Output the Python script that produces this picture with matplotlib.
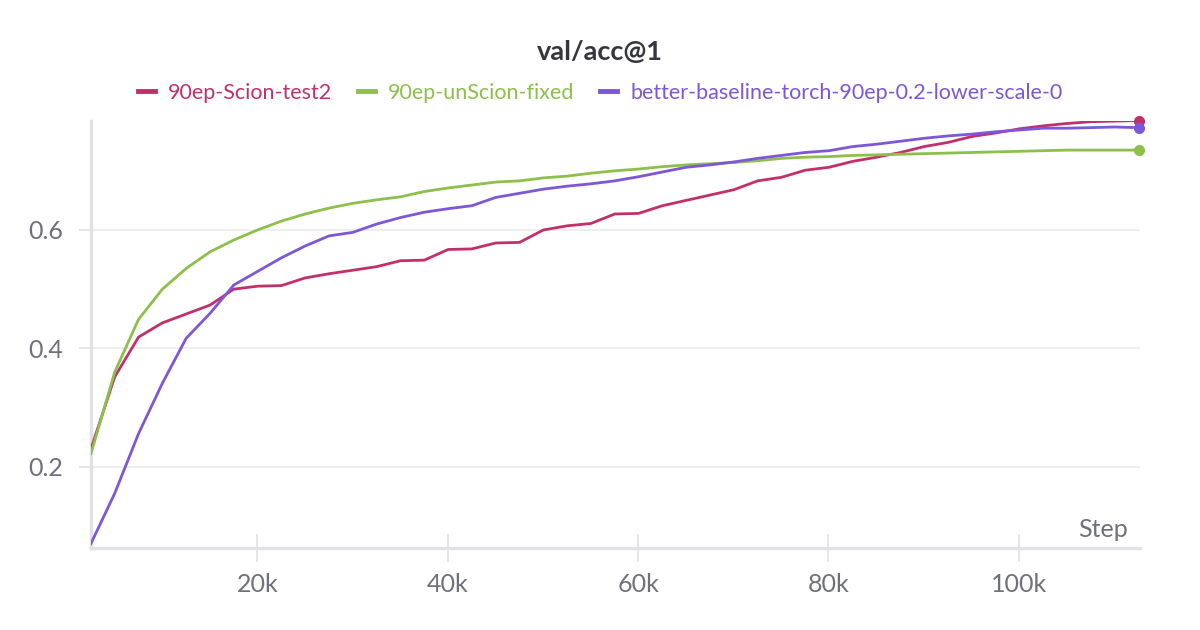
"""
Recreate the W&B style val/acc@1 chart for three 90-epoch runs.
"""

import matplotlib
matplotlib.use("Agg")
import matplotlib.pyplot as plt
from matplotlib.ticker import FuncFormatter

plt.rcParams['font.family'] = ['Lato', 'DejaVu Sans']

# ── data (validation every 2 epochs, 1251 steps / epoch) ─────────────────────

STEPS_PER_POINT = 2502
N_POINTS = 45
steps = [STEPS_PER_POINT * (k + 1) for k in range(N_POINTS)]

scion_test2 = [
    0.230, 0.352, 0.419, 0.443, 0.458, 0.473, 0.500, 0.505, 0.506, 0.519,
    0.526, 0.532, 0.538, 0.548, 0.549, 0.567, 0.568, 0.578, 0.579, 0.600,
    0.607, 0.611, 0.627, 0.628, 0.641, 0.650, 0.659, 0.668, 0.683, 0.689,
    0.701, 0.706, 0.716, 0.723, 0.731, 0.741, 0.748, 0.758, 0.764, 0.771,
    0.776, 0.780, 0.783, 0.784, 0.785,
]

unscion_fixed = [
    0.222, 0.360, 0.449, 0.500, 0.535, 0.563, 0.583, 0.600, 0.615, 0.627,
    0.637, 0.645, 0.651, 0.656, 0.665, 0.671, 0.676, 0.681, 0.683, 0.688,
    0.691, 0.696, 0.700, 0.703, 0.707, 0.710, 0.712, 0.714, 0.717, 0.721,
    0.723, 0.724, 0.726, 0.727, 0.728, 0.729, 0.730, 0.731, 0.732, 0.733,
    0.734, 0.735, 0.735, 0.735, 0.735,
]

baseline_torch = [
    0.070, 0.155, 0.256, 0.341, 0.417, 0.459, 0.507, 0.530, 0.553, 0.573,
    0.590, 0.596, 0.610, 0.621, 0.630, 0.636, 0.641, 0.655, 0.662, 0.669,
    0.674, 0.678, 0.683, 0.690, 0.698, 0.706, 0.710, 0.715, 0.721, 0.726,
    0.731, 0.734, 0.741, 0.745, 0.750, 0.755, 0.759, 0.762, 0.766, 0.769,
    0.772, 0.772, 0.773, 0.774, 0.773,
]

SERIES = [
    ("90ep-Scion-test2",                       scion_test2,    "#C2306C"),
    ("90ep-unScion-fixed",                     unscion_fixed,  "#8DC04A"),
    ("better-baseline-torch-90ep-0.2-lower-scale-0", baseline_torch, "#7D57D8"),
]

Y_TICKS = [0.2, 0.4, 0.6]
X_TICKS = [20000, 40000, 60000, 80000, 100000]

GRID_C  = "#EBEBEE"
SPINE_C = "#E2E2E6"
TICK_C  = "#6F707C"
TITLE_C = "#36363E"


# ── plot ──────────────────────────────────────────────────────────────────────

fig = plt.figure(figsize=(12, 6.3), dpi=100)
ax = fig.add_axes([0.0758, 0.1297, 0.8742, 0.6790])

for label, vals, color in SERIES:
    ax.plot(steps, vals, color=color, linewidth=2.0, label=label,
            solid_joinstyle='round', zorder=3)
    ax.plot(steps[-1], vals[-1], 'o', color=color, markersize=7,
            zorder=4, clip_on=False)

ax.set_xlim(steps[0], steps[-1] + 150)
ax.set_ylim(0.062, 0.785)

ax.set_yticks(Y_TICKS)
ax.set_yticklabels([f"{t:.1f}" for t in Y_TICKS])
ax.set_xticks(X_TICKS)
ax.xaxis.set_major_formatter(FuncFormatter(lambda v, _: f"{int(v / 1000)}k"))

ax.yaxis.grid(True, color=GRID_C, linewidth=1.2, zorder=0)
ax.xaxis.grid(False)

for side in ('top', 'right'):
    ax.spines[side].set_visible(False)
for side in ('left', 'bottom'):
    ax.spines[side].set_color(SPINE_C)
    ax.spines[side].set_linewidth(2.5)

ax.tick_params(axis='y', length=9, width=1.2, color=SPINE_C,
               labelcolor=TICK_C, labelsize=18, pad=11)
ax.tick_params(axis='x', direction='inout', length=20, width=1.2,
               color=SPINE_C, labelcolor=TICK_C, labelsize=18, pad=8)

ax.text(0.988, 0.018, "Step", transform=ax.transAxes, ha='right',
        va='bottom', color=TICK_C, fontsize=18)

fig.text(0.5, 0.918, "val/acc@1", ha='center', va='center',
         color=TITLE_C, fontsize=19.5, fontweight='bold')

leg = fig.legend(loc='center', bbox_to_anchor=(0.5, 0.853), ncol=3,
                 frameon=False, fontsize=15.5, handlelength=0.8,
                 handletextpad=0.6, columnspacing=1.2, labelcolor='linecolor')
for h in leg.legend_handles:
    h.set_linewidth(3.5)

fig.savefig("out.png", dpi=100, facecolor='white')
plt.close(fig)
